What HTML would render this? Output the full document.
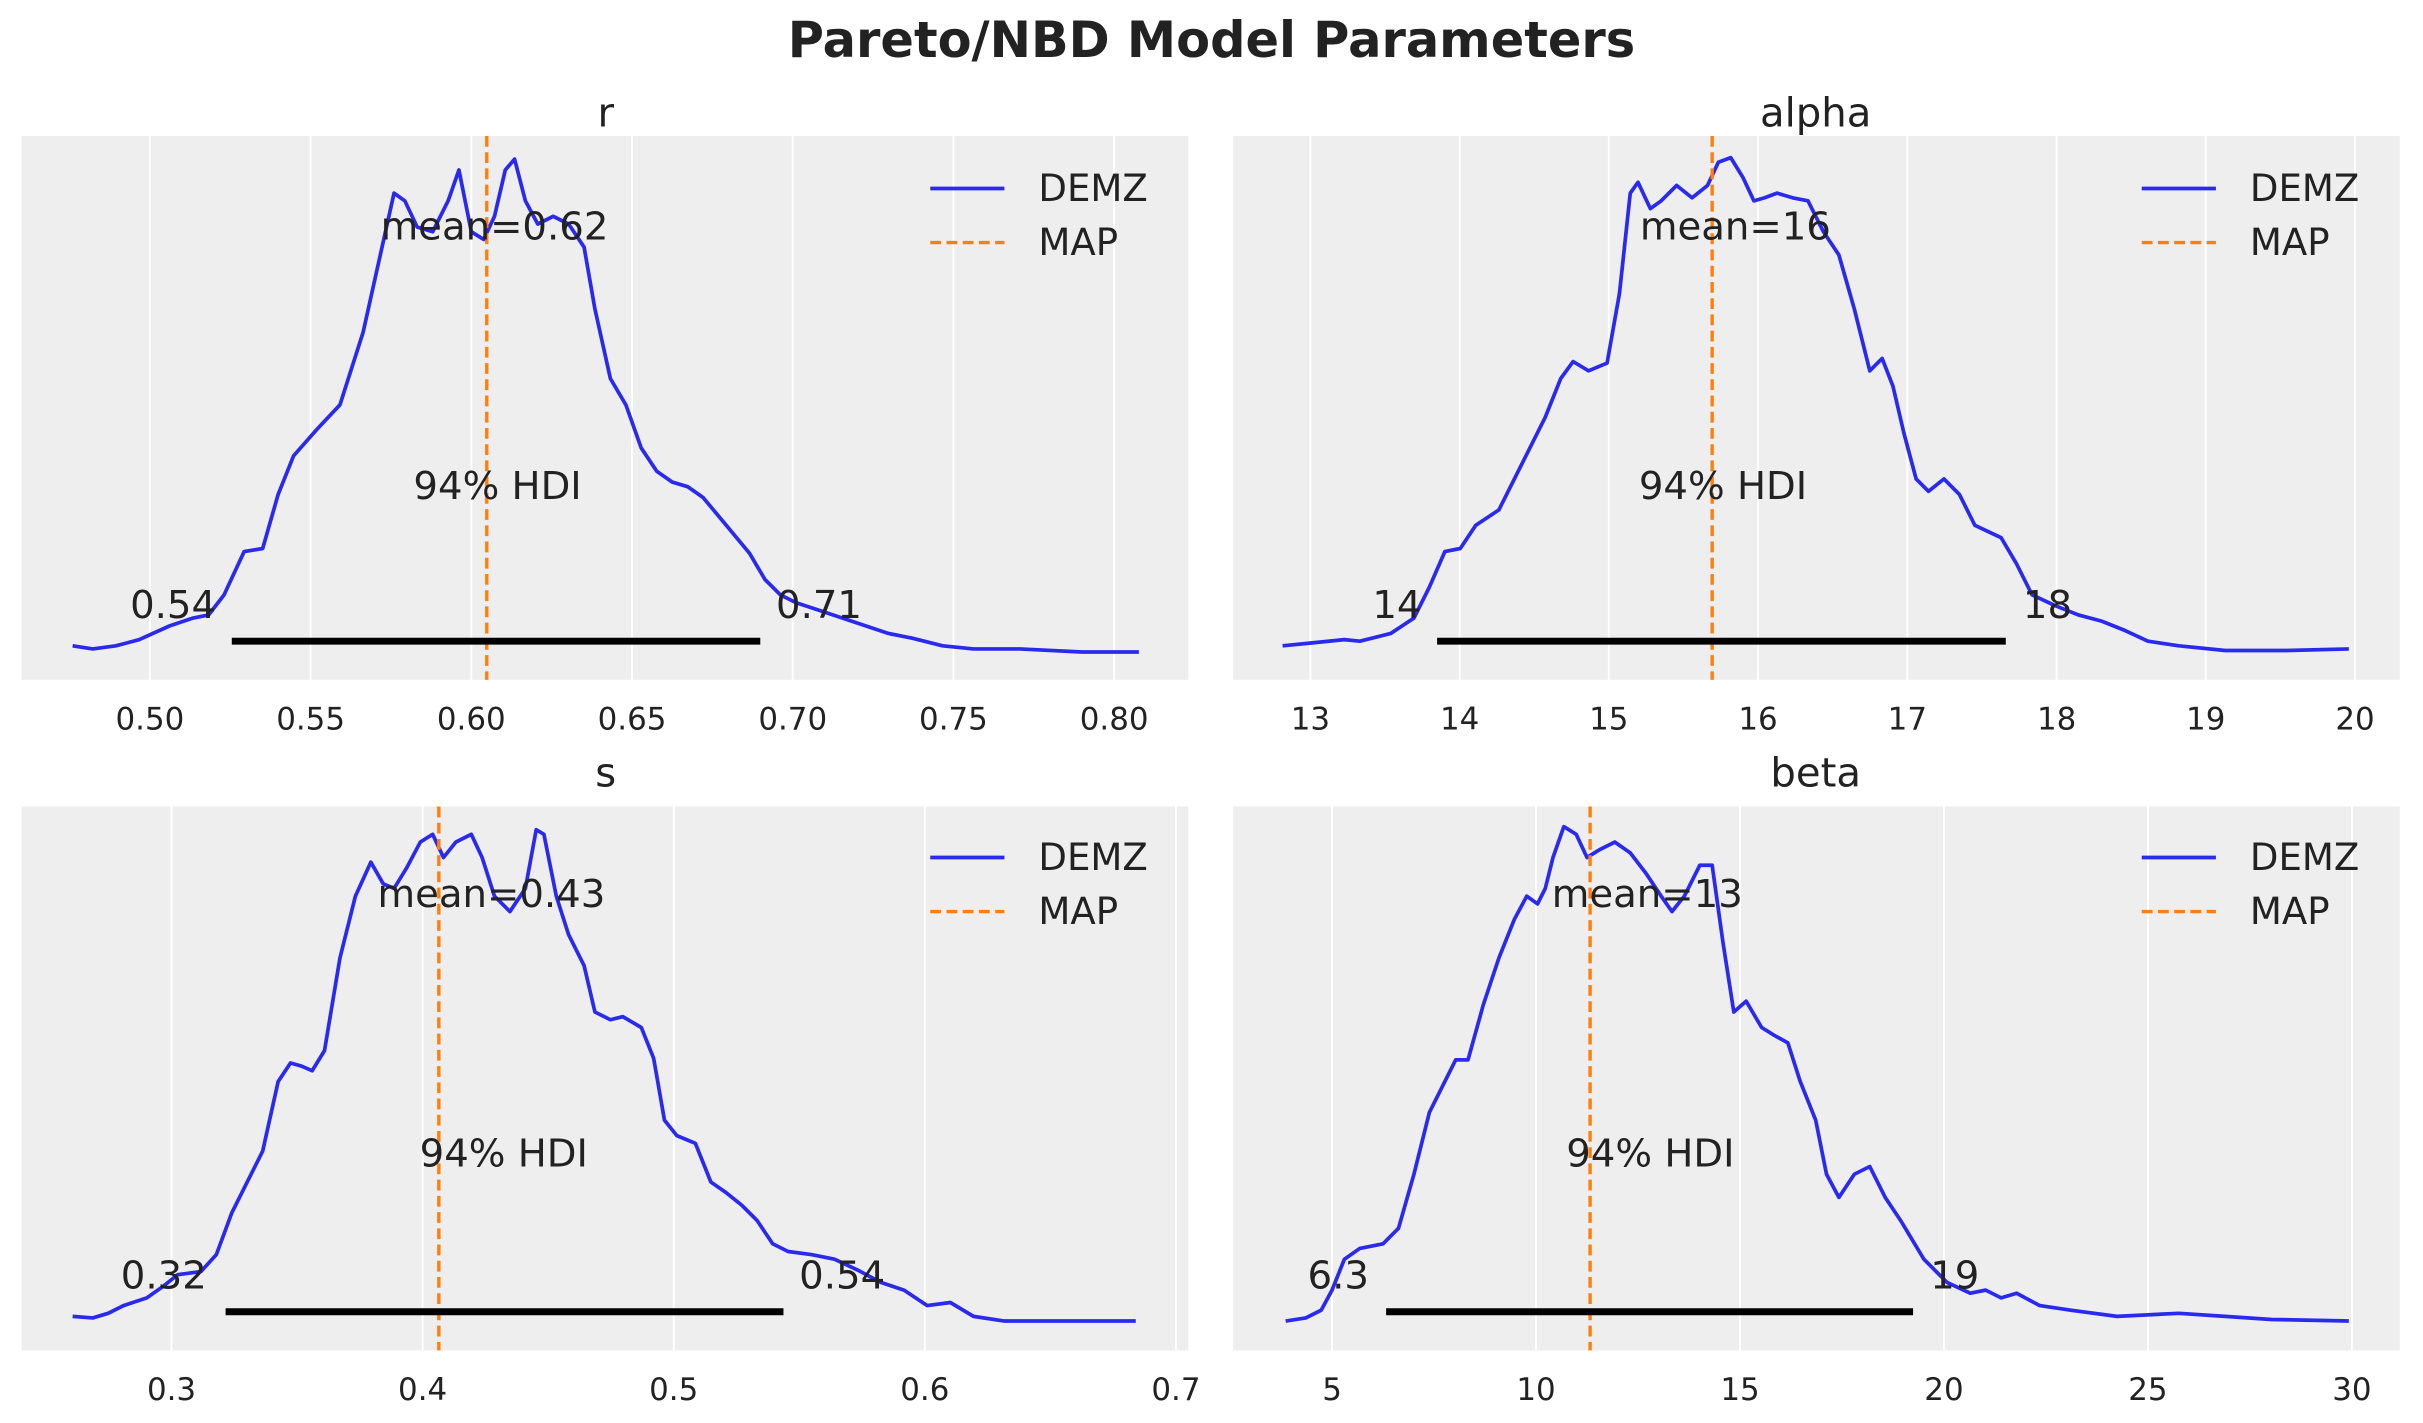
<!DOCTYPE html>
<html><head><meta charset="utf-8"><style>
html,body{margin:0;padding:0;background:#fff;}
svg{display:block;}
text{font-family:"DejaVu Sans","Liberation Sans",sans-serif;fill:#222;}
</style></head><body>
<svg width="2423" height="1423" viewBox="0 0 1568 921" preserveAspectRatio="none" xmlns="http://www.w3.org/2000/svg">
<text x="784" y="37" font-size="32" font-weight="bold" text-anchor="middle">Pareto/NBD Model Parameters</text>
<rect x="14" y="88" width="755" height="352" fill="#eeeeee"/>
<rect x="798" y="88" width="755" height="352" fill="#eeeeee"/>
<rect x="14" y="522" width="755" height="352" fill="#eeeeee"/>
<rect x="798" y="522" width="755" height="352" fill="#eeeeee"/>
<g stroke="#fff" stroke-width="1.2">
<line x1="97" y1="88" x2="97" y2="440"/><line x1="201" y1="88" x2="201" y2="440"/><line x1="305" y1="88" x2="305" y2="440"/><line x1="409" y1="88" x2="409" y2="440"/><line x1="513" y1="88" x2="513" y2="440"/><line x1="617" y1="88" x2="617" y2="440"/><line x1="721" y1="88" x2="721" y2="440"/>
<line x1="848" y1="88" x2="848" y2="440"/><line x1="944.6" y1="88" x2="944.6" y2="440"/><line x1="1041.1" y1="88" x2="1041.1" y2="440"/><line x1="1137.7" y1="88" x2="1137.7" y2="440"/><line x1="1234.3" y1="88" x2="1234.3" y2="440"/><line x1="1330.9" y1="88" x2="1330.9" y2="440"/><line x1="1427.4" y1="88" x2="1427.4" y2="440"/><line x1="1524" y1="88" x2="1524" y2="440"/>
<line x1="111" y1="522" x2="111" y2="874"/><line x1="273.5" y1="522" x2="273.5" y2="874"/><line x1="436" y1="522" x2="436" y2="874"/><line x1="598.5" y1="522" x2="598.5" y2="874"/><line x1="761" y1="522" x2="761" y2="874"/>
<line x1="862" y1="522" x2="862" y2="874"/><line x1="994" y1="522" x2="994" y2="874"/><line x1="1126" y1="522" x2="1126" y2="874"/><line x1="1258" y1="522" x2="1258" y2="874"/><line x1="1390" y1="522" x2="1390" y2="874"/><line x1="1522" y1="522" x2="1522" y2="874"/>
</g>
<g font-size="26" text-anchor="middle">
<text x="392" y="82">r</text><text x="1175" y="82">alpha</text>
<text x="392" y="509">s</text><text x="1175" y="509">beta</text>
</g>
<g font-size="20" text-anchor="middle">
<text x="97" y="472">0.50</text><text x="201" y="472">0.55</text><text x="305" y="472">0.60</text><text x="409" y="472">0.65</text><text x="513" y="472">0.70</text><text x="617" y="472">0.75</text><text x="721" y="472">0.80</text>
<text x="848" y="472">13</text><text x="944.6" y="472">14</text><text x="1041.1" y="472">15</text><text x="1137.7" y="472">16</text><text x="1234.3" y="472">17</text><text x="1330.9" y="472">18</text><text x="1427.4" y="472">19</text><text x="1524" y="472">20</text>
<text x="111" y="906">0.3</text><text x="273.5" y="906">0.4</text><text x="436" y="906">0.5</text><text x="598.5" y="906">0.6</text><text x="761" y="906">0.7</text>
<text x="862" y="906">5</text><text x="994" y="906">10</text><text x="1126" y="906">15</text><text x="1258" y="906">20</text><text x="1390" y="906">25</text><text x="1522" y="906">30</text>
</g>
<g fill="none" stroke="#2a2aee" stroke-width="2.4" stroke-linejoin="round">
<polyline points="47,418 60,420 75,418 90,414 110,405 125,400 135,398 145,385 158,357 170,355 180,320 190,295 205,278 220,262 235,215 245,170 255,125 262,130 270,147 280,150 290,130 297,110 305,150 313,155 320,140 327,110 333,103 340,130 348,145 358,140 368,145 378,160 385,200 395,245 405,262 415,290 425,305 435,312 445,315 455,322 470,340 485,358 495,375 505,385 515,390 530,395 545,400 560,405 575,410 590,413 610,418 630,420 660,420 700,422 737,422"/>
<polyline points="830,418 850,416 870,414 880,415 900,410 915,400 925,380 935,357 945,355 955,340 970,330 980,310 990,290 1000,270 1010,245 1018,234 1028,240 1040,235 1048,190 1055,125 1060,118 1068,135 1075,130 1085,120 1095,128 1105,120 1112,105 1120,102 1128,115 1135,130 1142,128 1150,125 1160,128 1170,130 1180,150 1190,165 1200,200 1210,240 1218,232 1225,250 1232,280 1240,310 1248,318 1258,310 1268,320 1278,340 1295,348 1305,365 1315,385 1330,392 1345,398 1360,402 1375,408 1390,415 1410,418 1440,421 1480,421 1520,420"/>
<polyline points="47,852 60,853 70,850 80,845 95,840 105,833 115,825 130,823 140,812 150,785 160,765 170,745 180,700 188,688 195,690 202,693 210,680 220,620 230,580 240,558 248,572 255,575 263,562 272,545 280,540 287,555 295,545 305,540 312,555 320,580 330,590 340,575 347,537 352,540 360,580 368,605 378,625 385,655 395,660 403,658 415,665 423,685 430,725 438,735 450,740 460,765 470,772 480,780 490,790 500,805 510,810 525,812 540,815 555,822 570,830 585,835 600,845 615,843 630,852 650,855 685,855 735,855"/>
<polyline points="832,855 845,853 855,848 862,835 870,815 880,808 895,805 905,795 915,760 925,720 935,700 942,686 950,686 960,650 970,620 980,595 988,580 995,585 1000,575 1005,555 1012,535 1020,540 1027,555 1035,550 1045,545 1055,552 1065,565 1075,580 1082,590 1090,580 1100,560 1108,560 1115,610 1122,655 1130,648 1140,665 1148,670 1157,675 1165,700 1175,725 1182,760 1190,775 1200,760 1210,755 1220,775 1230,790 1245,815 1260,830 1275,837 1285,835 1295,840 1305,837 1320,845 1340,848 1370,852 1410,850 1440,852 1470,854 1520,855"/>
</g>
<g stroke="#ff7f0e" stroke-width="2.2" stroke-dasharray="7,3.5">
<line x1="315" y1="88" x2="315" y2="440"/><line x1="1108" y1="88" x2="1108" y2="440"/>
<line x1="284" y1="522" x2="284" y2="874"/><line x1="1029" y1="522" x2="1029" y2="874"/>
</g>
<g stroke="#000" stroke-width="4.5">
<line x1="150" y1="415" x2="492" y2="415"/><line x1="930" y1="415" x2="1298" y2="415"/>
<line x1="146" y1="849" x2="507" y2="849"/><line x1="897" y1="849" x2="1238" y2="849"/>
</g>
<g font-size="25" text-anchor="middle">
<text x="320" y="155">mean=0.62</text><text x="322" y="323">94% HDI</text><text x="112" y="400">0.54</text><text x="530" y="400">0.71</text>
<text x="1123" y="155">mean=16</text><text x="1115" y="323">94% HDI</text><text x="904" y="400">14</text><text x="1325" y="400">18</text>
<text x="318" y="587">mean=0.43</text><text x="326" y="755">94% HDI</text><text x="106" y="834">0.32</text><text x="545" y="834">0.54</text>
<text x="1066" y="587">mean=13</text><text x="1068" y="755">94% HDI</text><text x="866" y="834">6.3</text><text x="1265" y="834">19</text>
</g>
<g font-size="24">
<line x1="602" y1="122" x2="650" y2="122" stroke="#2a2aee" stroke-width="2.4"/><text x="672" y="130">DEMZ</text>
<line x1="602" y1="157" x2="650" y2="157" stroke="#ff7f0e" stroke-width="2.2" stroke-dasharray="7,3.5"/><text x="672" y="165">MAP</text>
<line x1="1386" y1="122" x2="1434" y2="122" stroke="#2a2aee" stroke-width="2.4"/><text x="1456" y="130">DEMZ</text>
<line x1="1386" y1="157" x2="1434" y2="157" stroke="#ff7f0e" stroke-width="2.2" stroke-dasharray="7,3.5"/><text x="1456" y="165">MAP</text>
<line x1="602" y1="555" x2="650" y2="555" stroke="#2a2aee" stroke-width="2.4"/><text x="672" y="563">DEMZ</text>
<line x1="602" y1="590" x2="650" y2="590" stroke="#ff7f0e" stroke-width="2.2" stroke-dasharray="7,3.5"/><text x="672" y="598">MAP</text>
<line x1="1386" y1="555" x2="1434" y2="555" stroke="#2a2aee" stroke-width="2.4"/><text x="1456" y="563">DEMZ</text>
<line x1="1386" y1="590" x2="1434" y2="590" stroke="#ff7f0e" stroke-width="2.2" stroke-dasharray="7,3.5"/><text x="1456" y="598">MAP</text>
</g>
</svg>
</body></html>
